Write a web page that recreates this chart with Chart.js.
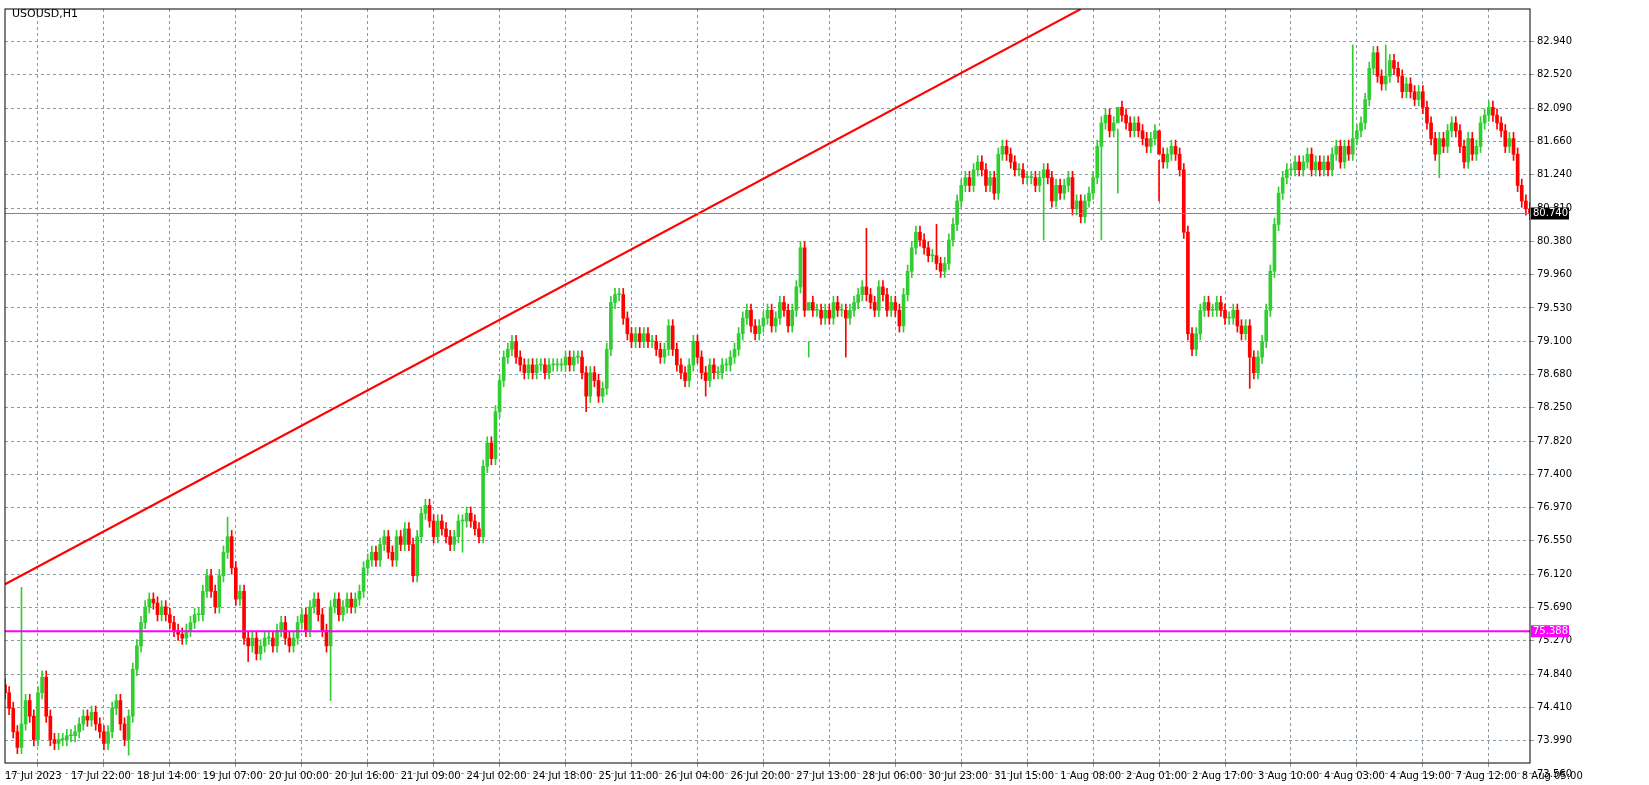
<!DOCTYPE html>
<html><head><meta charset="utf-8">
<script src="https://cdn.jsdelivr.net/npm/chart.js@4"></script>
<style>body{margin:0;background:#fff;}#wrap{position:relative;width:1649px;height:785px;}
#t{position:absolute;left:12px;top:7px;font:11px "DejaVu Sans",sans-serif;color:#000;z-index:2}</style>
</head><body><div id="wrap"><div id="t">USOUSD,H1</div><canvas id="c" width="1649" height="785"></canvas></div>
<script>
const xLabels=["17 Jul 2023","17 Jul 22:00","18 Jul 14:00","19 Jul 07:00","20 Jul 00:00","20 Jul 16:00","21 Jul 09:00","24 Jul 02:00","24 Jul 18:00","25 Jul 11:00","26 Jul 04:00","26 Jul 20:00","27 Jul 13:00","28 Jul 06:00","30 Jul 23:00","31 Jul 15:00","1 Aug 08:00","2 Aug 01:00","2 Aug 17:00","3 Aug 10:00","4 Aug 03:00","4 Aug 19:00","7 Aug 12:00","8 Aug 05:00"];
const yTicks=[73.560,73.990,74.410,74.840,75.270,75.690,76.120,76.550,76.970,77.400,77.820,78.250,78.680,79.100,79.530,79.960,80.380,80.810,81.240,81.660,82.090,82.520,82.940];
const closes=[
74.6,74.4,74.1,73.9,74.2,74.5,74.3,74.0,74.6,74.8,74.3,74.0,73.95,74.0,74.0,74.05,
74.05,74.1,74.2,74.3,74.25,74.35,74.2,74.1,73.95,74.1,74.4,74.5,74.2,74.0,74.3,74.9,
75.2,75.5,75.7,75.8,75.75,75.6,75.7,75.6,75.5,75.4,75.35,75.3,75.4,75.5,75.6,75.6,
75.9,76.1,75.9,75.7,76.1,76.4,76.6,76.2,75.8,75.9,75.3,75.2,75.3,75.1,75.2,75.3,
75.3,75.2,75.4,75.5,75.3,75.2,75.3,75.5,75.6,75.4,75.7,75.8,75.6,75.4,75.2,75.7,
75.8,75.6,75.7,75.8,75.7,75.8,75.9,76.2,76.3,76.4,76.3,76.5,76.6,76.4,76.3,76.6,
76.5,76.7,76.5,76.1,76.6,76.9,77.0,76.8,76.6,76.8,76.7,76.6,76.5,76.6,76.8,76.8,
76.9,76.8,76.7,76.6,77.5,77.8,77.6,78.2,78.6,78.9,79.0,79.1,78.9,78.8,78.7,78.8,
78.7,78.8,78.8,78.7,78.8,78.8,78.8,78.8,78.9,78.8,78.9,78.9,78.7,78.4,78.7,78.6,
78.4,78.5,79.0,79.6,79.7,79.7,79.4,79.2,79.1,79.2,79.1,79.2,79.1,79.1,79.0,78.9,
79.0,79.3,79.0,78.8,78.7,78.6,78.8,79.1,78.9,78.7,78.6,78.8,78.7,78.7,78.8,78.8,
78.9,79.0,79.2,79.4,79.5,79.3,79.2,79.3,79.4,79.5,79.3,79.4,79.6,79.5,79.3,79.5,
79.8,80.3,79.5,79.6,79.5,79.5,79.4,79.5,79.4,79.6,79.5,79.5,79.4,79.5,79.6,79.7,
79.8,79.7,79.6,79.5,79.8,79.7,79.5,79.6,79.5,79.3,79.7,80.0,80.3,80.5,80.4,80.3,
80.2,80.2,80.1,80.0,80.1,80.4,80.6,80.9,81.1,81.2,81.1,81.3,81.4,81.3,81.1,81.2,
81.0,81.5,81.6,81.5,81.4,81.3,81.3,81.2,81.2,81.2,81.1,81.2,81.3,81.2,80.9,81.1,
81.0,81.1,81.2,80.8,80.9,80.7,80.9,81.0,81.2,81.6,81.9,82.0,81.8,81.9,82.1,82.0,
81.9,81.8,81.9,81.8,81.7,81.6,81.7,81.8,81.5,81.4,81.5,81.6,81.5,81.3,80.5,79.2,
79.0,79.2,79.5,79.6,79.5,79.5,79.6,79.5,79.4,79.4,79.5,79.3,79.2,79.3,78.9,78.7,
78.9,79.1,79.5,80.0,80.6,81.0,81.2,81.3,81.3,81.4,81.3,81.4,81.5,81.3,81.4,81.3,
81.4,81.3,81.5,81.6,81.4,81.6,81.5,81.7,81.8,81.9,82.2,82.6,82.8,82.5,82.4,82.5,
82.7,82.6,82.5,82.3,82.4,82.3,82.2,82.3,82.1,81.9,81.7,81.5,81.7,81.6,81.8,81.9,
81.8,81.6,81.4,81.7,81.5,81.6,81.9,82.0,82.1,82.0,81.9,81.8,81.6,81.7,81.5,81.1,
80.9,80.8,80.74];
const firstOpen=74.7;
const spikes=[[4,75.95,null],[30,null,73.8],[54,76.85,null],[79,null,74.5],[59,null,75.0],[111,null,76.4],[141,null,78.2],[170,null,78.4],[195,79.1,78.9],[204,null,78.9],[209,80.55,null],[226,80.6,null],[252,null,80.4],[270,81.0,null],[266,null,80.4],[280,80.9,null],[302,null,78.5],[327,82.9,null],[335,82.9,null],[348,null,81.2]];
const trendStart=75.99, trendEnd=83.36, trendEndIdx=261;
const lineMagenta=75.388, lineGrey=80.740;

const n=closes.length;
const labels=[...Array(n).keys()];
const opens=closes.map((c,i)=>i?closes[i-1]:firstOpen);
const highs=closes.map((c,i)=>Math.max(c,opens[i])+0.08);
const lows=closes.map((c,i)=>Math.min(c,opens[i])-0.08);
spikes.forEach(([i,h,l])=>{if(h!=null)highs[i]=h;if(l!=null)lows[i]=l;});
const col=closes.map((c,i)=>c>=opens[i]?'#32cd32':'#ff0000');
const trend=labels.map(i=>i===0?trendStart:(i===trendEndIdx?trendEnd:null));

const hl={id:'hl',afterDatasetsDraw(ch){const {ctx,chartArea:a,scales:{y}}=ch;
 [[lineMagenta,'#ff00ff','#ff00ff','75.388','#fff'],[lineGrey,'#778899','#000','80.740','#fff']].forEach(([v,c,bg,t,fc])=>{
 const py=y.getPixelForValue(v);ctx.save();ctx.strokeStyle=c;ctx.lineWidth=v===lineMagenta?2:1;ctx.beginPath();ctx.moveTo(a.left,py);ctx.lineTo(a.right,py);ctx.stroke();
 ctx.fillStyle=bg;ctx.fillRect(a.right+1,py-6,38,12);ctx.fillStyle=fc;ctx.font='10px "DejaVu Sans"';ctx.textBaseline='middle';ctx.fillText(t,a.right+3,py);ctx.restore();});
 ctx.save();ctx.strokeStyle='#000';ctx.strokeRect(a.left,a.top,a.right-a.left,a.bottom-a.top);ctx.restore();}};

new Chart(document.getElementById('c'),{
 type:'bar',
 data:{labels,datasets:[
  {type:'line',data:trend,borderColor:'#ff0000',borderWidth:2,pointRadius:0,spanGaps:true,order:0},
  {data:labels.map(i=>[lows[i],highs[i]]),backgroundColor:col,barThickness:1,grouped:false,order:2},
  {data:labels.map(i=>[opens[i],closes[i]]),backgroundColor:col,barThickness:3,grouped:false,order:1,minBarLength:1}
 ]},
 plugins:[hl],
 options:{responsive:false,animation:false,
  layout:{padding:{left:5,top:5,right:0,bottom:0}},
  plugins:{legend:{display:false},tooltip:{enabled:false}},
  scales:{
   x:{offset:false,min:0,max:394,grid:{color:'#8a9aa9',tickLength:4,lineWidth:1},border:{display:false,dash:[3,3]},
      afterBuildTicks:s=>{s.ticks=xLabels.map((_,k)=>({value:k*16}));},
      ticks:{autoSkip:false,maxRotation:0,align:'start',color:'#000',font:{size:10,family:'DejaVu Sans'},callback:(v)=>xLabels[v/16]}},
   y:{position:'right',min:73.70,max:83.36,border:{display:false,dash:[3,3]},grid:{color:'#8a9aa9',tickLength:4},
      afterBuildTicks:s=>{s.ticks=yTicks.map(v=>({value:v}));},
      afterFit:s=>{s.width=119;},
      ticks:{color:'#000',font:{size:10,family:'DejaVu Sans'},callback:v=>v.toFixed(3)}}
  }}
});
</script></body></html>
